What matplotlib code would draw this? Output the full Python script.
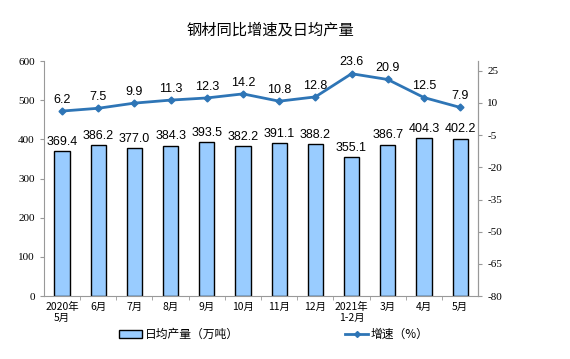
import matplotlib
matplotlib.use("Agg")
import matplotlib.pyplot as plt
from matplotlib.patches import Patch
from matplotlib.lines import Line2D

months = ["2020年\n5月", "6月", "7月", "8月", "9月", "10月", "11月", "12月",
          "2021年\n1-2月", "3月", "4月", "5月"]
output = [369.4, 386.2, 377.0, 384.3, 393.5, 382.2, 391.1, 388.2, 355.1, 386.7, 404.3, 402.2]
growth = [6.2, 7.5, 9.9, 11.3, 12.3, 14.2, 10.8, 12.8, 23.6, 20.9, 12.5, 7.9]

plt.rcParams['axes.unicode_minus'] = False
cjk = ['Noto Sans CJK SC', 'DejaVu Sans']
serif = 'Liberation Serif'
sans = 'Liberation Sans'
blue = '#2E75B6'

fig = plt.figure(figsize=(5.7, 3.59), dpi=100)
ax = fig.add_axes([0.077, 0.175, 0.762, 0.655])
ax2 = ax.twinx()

x = list(range(len(months)))
ax.bar(x, output, width=0.42, color='#99CCFF', edgecolor='black', linewidth=1.0, zorder=2)
for xi, v in zip(x, output):
    ax.text(xi, v + 8, f"{v:.1f}", ha='center', va='bottom', fontsize=9, family=sans)

ax.set_xlim(-0.5, 11.5)
ax.set_ylim(0, 600)
ax.set_yticks(range(0, 601, 100))
ax.set_xticks(x)
ax.set_xticklabels(months, family=cjk, fontsize=7.5)
ax.set_xticks([i + 0.5 for i in x[:-1]], minor=True)
ax.tick_params(axis='x', which='major', length=0, pad=4)
ax.tick_params(axis='x', which='minor', length=3, color='#999999')
ax.tick_params(axis='y', length=3, color='#999999', labelsize=8)
for lab in ax.get_yticklabels():
    lab.set_family(serif)

ax2.plot(x, growth, color=blue, linewidth=2, marker='D', markersize=3.5, zorder=3)
for xi, v in zip(x, growth):
    ax2.text(xi, v + 2.5, f"{v:.1f}", ha='center', va='bottom', fontsize=9, family=sans)
ax2.set_ylim(-80, 29.5)
ax2.set_yticks(range(-80, 26, 15))
ax2.tick_params(axis='y', length=3, color='#999999', labelsize=8)
for lab in ax2.get_yticklabels():
    lab.set_family(serif)

for a in (ax, ax2):
    a.spines['top'].set_visible(False)
    for s in ('left', 'right', 'bottom'):
        a.spines[s].set_color('#999999')
ax2.spines['left'].set_visible(False)
ax2.spines['bottom'].set_visible(False)

fig.text(0.475, 0.915, "钢材同比增速及日均产量", ha='center', va='center',
         fontsize=11, family=cjk)

handles = [Patch(facecolor='#99CCFF', edgecolor='black', linewidth=1.0),
           Line2D([], [], color=blue, linewidth=2, marker='D', markersize=3)]
fig.legend(handles, ["日均产量（万吨）", "增速（%）"], loc='center',
           bbox_to_anchor=(0.48, 0.068), ncol=2, frameon=False, columnspacing=9,
           handlelength=2.0, handletextpad=0.2, prop={'family': cjk, 'size': 8.5})

fig.savefig("out.png", dpi=100)
